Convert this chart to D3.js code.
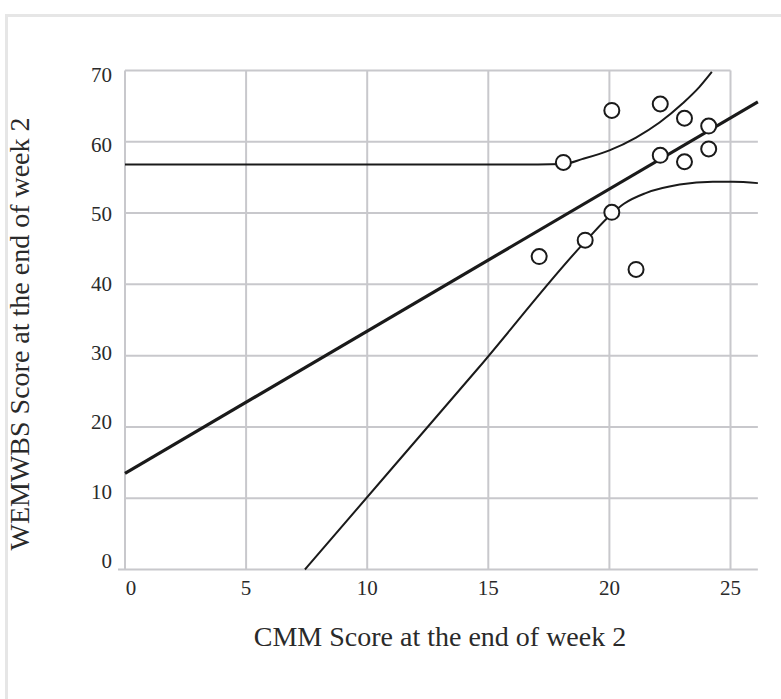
<!DOCTYPE html>
<html>
<head>
<meta charset="utf-8">
<script src="https://cdn.jsdelivr.net/npm/d3@7"></script>
<style>
  body { margin: 0; background: #fff; }
  svg { display: block; }
</style>
</head>
<body>
<div id="chart"></div>
<script>
// Puntos observados
const cmmScore = [17.1, 18.1, 19.0, 20.1, 20.1, 21.1, 22.1, 22.1, 23.1, 23.1, 24.1, 24.1];
const wemwbsScore = [43.9, 57.1, 46.2, 50.1, 64.4, 42.1, 65.3, 58.1, 63.3, 57.2, 62.2, 59.0];

// Recta de regresión (extremos)
const fitX = [0, 26.13];
const fitY = [13.5, 65.6];

// Banda superior (tramo plano y luego curva)
const upperX = [0, 6, 12, 16, 18.1, 18.9, 20.0, 21.1, 22.07, 23.03, 23.72, 24.23];
const upperY = [56.8, 56.8, 56.8, 56.8, 56.9, 57.6, 58.8, 60.6, 62.7, 65.4, 67.7, 69.8];

// Banda inferior
const lowerX = [7.43, 11, 14.6, 19.0, 20.1, 20.6, 21.5, 22.9, 24.27, 25.1, 26.13];
const lowerY = [0, 14.1, 28.3, 46.0, 49.9, 51.3, 52.8, 54.0, 54.4, 54.4, 54.2];

// Ticks
const xTicks = [0, 5, 10, 15, 20, 25];
const yTicks = [0, 10, 20, 30, 40, 50, 60, 70];

const WIDTH = 781;
const HEIGHT = 699;
const FONT = "'Liberation Serif', 'DejaVu Serif', serif";

const svg = d3.select("#chart").append("svg")
    .attr("width", WIDTH)
    .attr("height", HEIGHT);

// Marco exterior
svg.append("rect")
    .attr("x", 6.5)
    .attr("y", 15.5)
    .attr("width", 900)
    .attr("height", 900)
    .attr("fill", "none")
    .attr("stroke", "#e6e6e6")
    .attr("stroke-width", 3);

const x = d3.scaleLinear().domain([0, 25]).range([125, 730.5]);
const y = d3.scaleLinear().domain([0, 70]).range([569.5, 70.5]);
// posición de las etiquetas del eje y (algo más juntas que la grilla)
const yLabel = d3.scaleLinear().domain([0, 70]).range([561, 75]);

const xEnd = x(26.13);
const gridColor = "#c8c8cc";

// Grilla horizontal
svg.append("g").selectAll("line")
    .data(yTicks)
    .join("line")
    .attr("x1", d => d === 0 ? x(0) - 7 : x(0))
    .attr("x2", d => d === 70 ? x(25) : xEnd)
    .attr("y1", d => y(d))
    .attr("y2", d => y(d))
    .attr("stroke", gridColor)
    .attr("stroke-width", 2);

// Grilla vertical
svg.append("g").selectAll("line")
    .data(xTicks)
    .join("line")
    .attr("x1", d => x(d))
    .attr("x2", d => x(d))
    .attr("y1", y(70))
    .attr("y2", y(0))
    .attr("stroke", gridColor)
    .attr("stroke-width", 2);

// Etiquetas eje x
svg.append("g").selectAll("text")
    .data(xTicks)
    .join("text")
    .attr("x", d => x(d) + (d === 0 ? 6 : 0))
    .attr("y", 595)
    .attr("text-anchor", "middle")
    .style("font-family", FONT)
    .style("font-size", "21px")
    .style("fill", "#2a2a2a")
    .text(d => d);

// Etiquetas eje y
svg.append("g").selectAll("text")
    .data(yTicks)
    .join("text")
    .attr("x", 112)
    .attr("y", d => yLabel(d))
    .attr("dy", "0.35em")
    .attr("text-anchor", "end")
    .style("font-family", FONT)
    .style("font-size", "21px")
    .style("fill", "#2a2a2a")
    .text(d => d);

// Títulos de ejes
svg.append("text")
    .attr("x", 440)
    .attr("y", 636)
    .attr("dy", "0.35em")
    .attr("text-anchor", "middle")
    .style("font-family", FONT)
    .style("font-size", "28px")
    .style("fill", "#2a2a2a")
    .text("CMM Score at the end of week 2");

svg.append("text")
    .attr("transform", "translate(19, 334) rotate(-90)")
    .attr("dy", "0.35em")
    .attr("text-anchor", "middle")
    .style("font-family", FONT)
    .style("font-size", "28px")
    .style("fill", "#2a2a2a")
    .text("WEMWBS Score at the end of week 2");

const line = d3.line().x(d => x(d[0])).y(d => y(d[1]));
const curve = d3.line().x(d => x(d[0])).y(d => y(d[1])).curve(d3.curveMonotoneX);

// Bandas
svg.append("path")
    .datum(upperX.map((v, i) => [v, upperY[i]]))
    .attr("d", curve)
    .attr("fill", "none")
    .attr("stroke", "#1a1a1a")
    .attr("stroke-width", 2);

svg.append("path")
    .datum(lowerX.map((v, i) => [v, lowerY[i]]))
    .attr("d", curve)
    .attr("fill", "none")
    .attr("stroke", "#1a1a1a")
    .attr("stroke-width", 2);

// Recta de regresión
svg.append("path")
    .datum(fitX.map((v, i) => [v, fitY[i]]))
    .attr("d", line)
    .attr("fill", "none")
    .attr("stroke", "#1a1a1a")
    .attr("stroke-width", 3.2);

// Puntos
svg.append("g").selectAll("circle")
    .data(cmmScore.map((v, i) => ({ cmm: v, wemwbs: wemwbsScore[i] })))
    .join("circle")
    .attr("cx", d => x(d.cmm))
    .attr("cy", d => y(d.wemwbs))
    .attr("r", 7.5)
    .attr("fill", "#fff")
    .attr("stroke", "#1a1a1a")
    .attr("stroke-width", 2);
</script>
</body>
</html>
